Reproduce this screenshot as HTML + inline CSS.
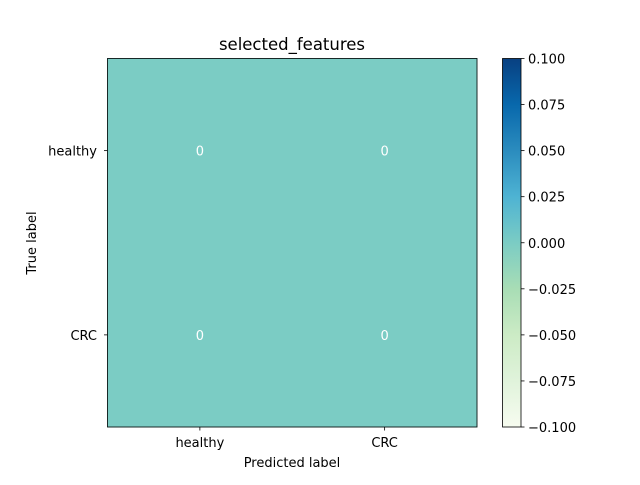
<!DOCTYPE html>
<html><head><meta charset="utf-8"><style>
body{margin:0;background:#fff;font-family:"Liberation Sans","DejaVu Sans",sans-serif}
svg text{font-family:"DejaVu Sans","Liberation Sans",sans-serif;font-size:13px}
</style></head><body>
<svg width="640" height="480" id="c">
<defs><linearGradient id="g" x1="0" y1="1" x2="0" y2="0">
<stop offset="0" stop-color="#f7fcf0"/><stop offset=".125" stop-color="#e0f3db"/><stop offset=".25" stop-color="#ccebc5"/><stop offset=".375" stop-color="#a8ddb5"/><stop offset=".5" stop-color="#7bccc4"/><stop offset=".625" stop-color="#4eb3d3"/><stop offset=".75" stop-color="#2b8cbe"/><stop offset=".875" stop-color="#0868ac"/><stop offset="1" stop-color="#084081"/></linearGradient></defs>
<text x="292" y="50" text-anchor="middle" style="font-size:16.5px">selected_features</text>
<g id="cells" shape-rendering="crispEdges"></g>
<rect x="107.5" y="58.5" width="369.5" height="368.5" fill="none" stroke="#000" stroke-width="0.8"/>
<g id="ticks"></g>
<text x="292" y="467" text-anchor="middle">Predicted label</text>
<text transform="translate(36,243) rotate(-90)" text-anchor="middle">True label</text>
<rect x="502.5" y="58.5" width="18.5" height="368.5" fill="url(#g)" stroke="#000" stroke-width="0.8"/>
<g id="cb"></g>
</svg>
<script>
const labels=["healthy","CRC"];
const values=[[0,0],[0,0]];
const cbTicks=["0.100","0.075","0.050","0.025","0.000","−0.025","−0.050","−0.075","−0.100"];
const cbVals=[0.1,0.075,0.05,0.025,0,-0.025,-0.05,-0.075,-0.1];
const NS="http://www.w3.org/2000/svg";
const X0=107.5,Y0=58.5,W=369.5,H=368.5,n=labels.length;
const cx=i=>X0+W/n*(i+0.5), cy=j=>Y0+H/n*(j+0.5);
const cbY=v=>58.5+(0.1-v)/0.2*368.5;
function mk(t,a,p){const e=document.createElementNS(NS,t);for(const k in a)e.setAttribute(k,a[k]);(p||document.getElementById('c')).appendChild(e);return e;}
const cells=document.getElementById('cells'),ticks=document.getElementById('ticks'),cb=document.getElementById('cb');
values.forEach((row,j)=>row.forEach((v,i)=>{
 const r=mk('rect',{x:X0+W/n*i-0.5,y:Y0+H/n*j-0.5,width:W/n+1,height:H/n+1,fill:'#7bccc4'},cells);
 
 
}));
values.forEach((row,j)=>row.forEach((v,i)=>{
 const t=mk('text',{x:cx(i),y:cy(j)+5,'text-anchor':'middle',fill:'#fff'},ticks);t.textContent=v;
 
 
}));
labels.forEach((l,i)=>{
 mk('line',{x1:cx(i),x2:cx(i),y1:427,y2:430.5,stroke:'#000','stroke-width':0.8},ticks);
 const t=mk('text',{x:cx(i),y:447,'text-anchor':'middle'},ticks);t.textContent=l;
 
 
 mk('line',{x1:104,x2:107.5,y1:cy(i),y2:cy(i),stroke:'#000','stroke-width':0.8},ticks);
 const u=mk('text',{x:97,y:cy(i)+5,'text-anchor':'end'},ticks);u.textContent=l;
 
 
});
cbVals.forEach((v,k)=>{
 const y=cbY(v);
 mk('line',{x1:521,x2:524.5,y1:y,y2:y,stroke:'#000','stroke-width':0.8},cb);
 const t=mk('text',{x:528,y:y+5},cb);t.textContent=cbTicks[k];
 
 
});
</script>
</body></html>
